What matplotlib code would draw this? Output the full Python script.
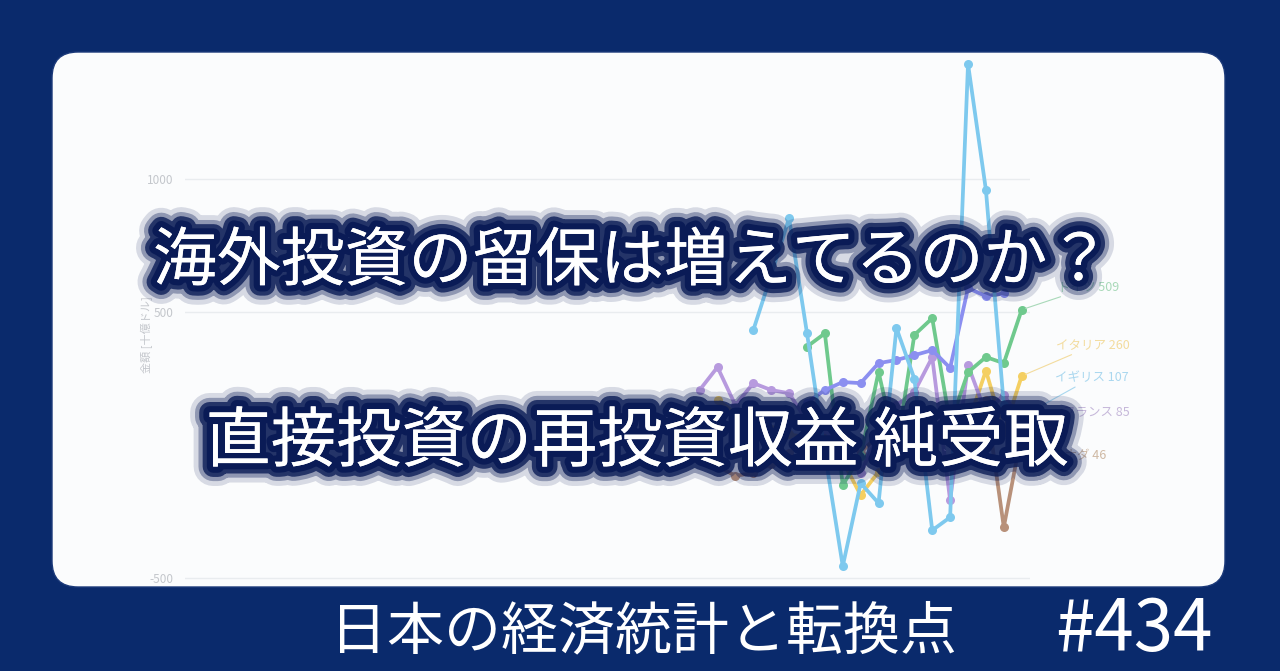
import numpy as np
import matplotlib.pyplot as plt
import matplotlib.patheffects as pe
from matplotlib.patches import FancyBboxPatch

plt.rcParams['font.family'] = ['Noto Sans CJK JP', 'DejaVu Sans']

nan = np.nan

# 年 (2005-2023)
years = list(range(2005, 2024))

# 直接投資の再投資収益 純受取 (読み取り値)
igirisu = [nan, nan, nan, 432, 640, 853, 421, -30, -455, -143, -218, 440, 250, -320, -271, 1432, 959, 150, 107]
doitsu = [nan, nan, nan, nan, nan, nan, 370, 420, -150, -40, 275, -20, 414, 477, 80, 274, 331, 308, 509]
series_6 = [nan, nan, nan, nan, nan, nan, 160, 207, 237, 233, 308, 320, 338, 357, 290, 590, 560, 570, nan]
furansu = [207, 293, 150, 233, 207, 195, 90, 60, -30, -105, 40, 150, 200, 330, -207, 300, 120, 190, 85]
itaria = [nan, 170, 120, 100, 60, 40, 30, 20, -60, -188, -100, -20, 60, 20, 120, 80, 280, 50, 260]
kanada = [-40, -80, -115, -105, -70, -30, 10, 30, 20, -30, 40, 60, 80, 120, 60, 140, 170, -308, 46]

yticks = [-500, 500, 1000]

navy = '#0a2a6c'
glow = '#0a1b56'

fig = plt.figure(figsize=(12.8, 6.71), dpi=100)
fig.patch.set_facecolor(navy)

# 背景パネル (ピクセル座標)
bg = fig.add_axes([0, 0, 1, 1], zorder=0)
bg.set_xlim(0, 1280)
bg.set_ylim(671, 0)
bg.axis('off')
panel = FancyBboxPatch((52, 52), 1173, 535, boxstyle='round,pad=0,rounding_size=26',
                       facecolor='#fbfcfd', edgecolor='#1c3a7a', linewidth=1.0)
bg.add_patch(panel)

# グラフ本体
ax = fig.add_axes([0.1445, 0.128, 0.660, 0.790], zorder=1)
ax.patch.set_alpha(0)
ax.set_xlim(1976.24, 2023.45)
ax.set_ylim(-526, 1466)

lines = [
    (kanada, '#b8917a'),
    (itaria, '#f4cf62'),
    (furansu, '#b79ade'),
    (doitsu, '#6fc98d'),
    (series_6, '#8b8ff0'),
    (igirisu, '#7ec9ee'),
]
for vals, col in lines:
    ax.plot(years, vals, color=col, lw=2.7, marker='o', markersize=6.5,
            markeredgewidth=0, solid_joinstyle='round')

ax.set_yticks(yticks)
ax.set_yticklabels([str(v) for v in yticks])
ax.set_xticks([])
ax.tick_params(axis='y', length=0, pad=8, labelsize=8.5, labelcolor='#c4c7cc')
ax.grid(axis='y', color='#e9ecef', lw=1)
ax.set_axisbelow(True)
for s in ax.spines.values():
    s.set_visible(False)
ax.set_ylabel('金額 [十億ドル]', color='#c4c7cc', fontsize=8)
ax.yaxis.set_label_coords(-0.038, 0.472)

# 末尾ラベル
end_labels = [
    ('ドイツ', doitsu, '#a9d9b9', (26, 16)),
    ('イタリア', itaria, '#f3dc9e', (25, 22)),
    ('イギリス', igirisu, '#a9d7ef', (24, 28)),
    ('フランス', furansu, '#c6b8da', (30, 7)),
    ('カナダ', kanada, '#cfb9a4', (22, -16)),
]
for name, vals, col, off in end_labels:
    ax.annotate(f'{name} {vals[-1]}', xy=(years[-1], vals[-1]), xytext=off,
                textcoords='offset points', color=col, fontsize=9, va='center', ha='left',
                arrowprops=dict(arrowstyle='-', color=col, lw=0.8, shrinkA=0, shrinkB=3))

# 上に重ねる文字
ov = fig.add_axes([0, 0, 1, 1], zorder=5)
ov.set_xlim(0, 1280)
ov.set_ylim(671, 0)
ov.axis('off')
ov.patch.set_alpha(0)

fx = [pe.withStroke(linewidth=28, foreground=glow, alpha=0.15),
      pe.withStroke(linewidth=21, foreground=glow, alpha=0.35),
      pe.withStroke(linewidth=15, foreground=glow, alpha=0.8),
      pe.withStroke(linewidth=9, foreground=glow),
      pe.Normal()]

ov.text(632, 262, '海外投資の留保は増えてるのか？', fontsize=46, color='white',
        ha='center', va='center', path_effects=fx)
ov.text(637, 443, '直接投資の再投資収益 純受取', fontsize=47, color='white',
        ha='center', va='center', path_effects=fx)

ov.text(330, 632, '日本の経済統計と転換点', fontsize=41, color='white', ha='left', va='center')
ov.text(1055, 630, '#434', fontsize=51, color='white', ha='left', va='center')

fig.savefig('out.png', dpi=100, facecolor=fig.get_facecolor())
